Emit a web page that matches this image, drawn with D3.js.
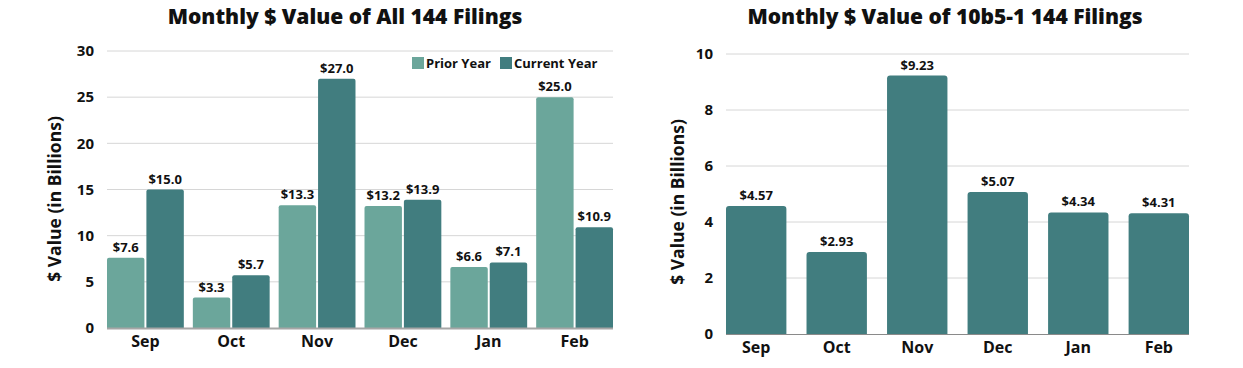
<!DOCTYPE html>
<html><head><meta charset="utf-8">
<script src="https://cdn.jsdelivr.net/npm/d3@7"></script>
<style>
body{margin:0;background:#fff;}
text{font-family:"Open Sans",sans-serif;font-weight:700;fill:#111;}
</style></head>
<body><svg id="c" width="1243" height="368"></svg>
<script>
const months = ["Sep","Oct","Nov","Dec","Jan","Feb"];
const priorYear = [7.6,3.3,13.3,13.2,6.6,25.0];
const currentYear = [15.0,5.7,27.0,13.9,7.1,10.9];
const rule10b5 = [4.57,2.93,9.23,5.07,4.34,4.31];
const leftTicks = [0,5,10,15,20,25,30];
const rightTicks = [0,2,4,6,8,10];
const seriesNames = ["Prior Year","Current Year"];
const colors = {prior:"#6ba69b", current:"#417d7f"};

const svg = d3.select("#c");

function roundTopRect(x,y,w,h,r){
  r=Math.min(r,h,w/2);
  return `M${x},${y+h}V${y+r}Q${x},${y} ${x+r},${y}H${x+w-r}Q${x+w},${y} ${x+w},${y+r}V${y+h}Z`;
}

// ---------- Left chart ----------
{
  const x0=107,x1=613,yT=51,yB=328;
  const x = d3.scaleBand().domain(months).range([x0,x1]).paddingInner(0.105).paddingOuter(0);
  const xs = d3.scaleBand().domain(seriesNames).range([0,x.bandwidth()]).paddingInner(0.05);
  const y = d3.scaleLinear().domain([0,30]).range([yB,yT]);
  const g = svg.append("g");
  g.selectAll(".grid").data(leftTicks.filter(d=>d>0)).join("line")
    .attr("x1",x0).attr("x2",x1).attr("y1",d=>y(d)).attr("y2",d=>y(d))
    .attr("stroke","#d6d6d6").attr("stroke-width",1);
  const yAxis = g.append("g").attr("transform",`translate(${x0},0)`)
    .call(d3.axisLeft(y).tickValues(leftTicks).tickSize(0).tickPadding(13));
  yAxis.select(".domain").remove();
  yAxis.selectAll("text").style("font-size","15px").attr("fill","#111");
  const data = months.map((m,i)=>({m, vals:[{k:"Prior Year",v:priorYear[i],c:colors.prior},{k:"Current Year",v:currentYear[i],c:colors.current}]}));
  const grp = g.selectAll(".grp").data(data).join("g").attr("transform",d=>`translate(${x(d.m)},0)`);
  grp.selectAll("path").data(d=>d.vals).join("path")
    .attr("d",d=>roundTopRect(xs(d.k),y(d.v),xs.bandwidth(),yB-y(d.v),2))
    .attr("fill",d=>d.c);
  grp.selectAll("text").data(d=>d.vals).join("text")
    .attr("x",d=>xs(d.k)+xs.bandwidth()/2).attr("y",d=>y(d.v)-6)
    .attr("text-anchor","middle").style("font-size","13px")
    .text(d=>"$"+d.v.toFixed(1));
  g.append("line").attr("x1",x0).attr("x2",x1).attr("y1",yB+0.5).attr("y2",yB+0.5)
    .attr("stroke","#a6a6a6").attr("stroke-width",2);
  const xAxis = g.append("g").attr("transform",`translate(0,${yB})`)
    .call(d3.axisBottom(x).tickSize(0).tickPadding(8));
  xAxis.select(".domain").remove();
  xAxis.selectAll("text").style("font-size","16px").attr("fill","#111");
  g.append("text").attr("transform",`translate(61,199) rotate(-90)`)
    .attr("text-anchor","middle").style("font-size","17.5px").text("$ Value (in Billions)");
  g.append("text").attr("x",345).attr("y",24).attr("text-anchor","middle")
    .style("font-size","21px").style("font-weight","800").text("Monthly $ Value of All 144 Filings");
  // legend
  const leg = g.append("g");
  const lx=[412,500];
  seriesNames.forEach((s,i)=>{
    leg.append("rect").attr("x",lx[i]).attr("y",57).attr("width",12).attr("height",12)
      .attr("fill",i===0?colors.prior:colors.current);
    leg.append("text").attr("x",lx[i]+14).attr("y",68).style("font-size","13px").text(s);
  });
}

// ---------- Right chart ----------
{
  const x0=726,x1=1189,yT=54,yB=334;
  const x = d3.scaleBand().domain(months).range([x0,x1]).paddingInner(0.25).paddingOuter(0);
  const y = d3.scaleLinear().domain([0,10]).range([yB,yT]);
  const g = svg.append("g");
  g.selectAll(".grid").data(rightTicks.filter(d=>d>0)).join("line")
    .attr("x1",x0).attr("x2",x1).attr("y1",d=>y(d)).attr("y2",d=>y(d))
    .attr("stroke","#d6d6d6").attr("stroke-width",1);
  const yAxis = g.append("g").attr("transform",`translate(${x0},0)`)
    .call(d3.axisLeft(y).tickValues(rightTicks).tickSize(0).tickPadding(13));
  yAxis.select(".domain").remove();
  yAxis.selectAll("text").style("font-size","15px").attr("fill","#111");
  g.selectAll(".bar").data(months.map((m,i)=>({m,v:rule10b5[i]}))).join("path")
    .attr("d",d=>roundTopRect(x(d.m),y(d.v),x.bandwidth(),yB-y(d.v),3))
    .attr("fill",colors.current);
  g.selectAll(".lbl").data(months.map((m,i)=>({m,v:rule10b5[i]}))).join("text")
    .attr("x",d=>x(d.m)+x.bandwidth()/2).attr("y",d=>y(d.v)-6)
    .attr("text-anchor","middle").style("font-size","13px")
    .text(d=>"$"+d.v.toFixed(2));
  g.append("line").attr("x1",x0).attr("x2",x1).attr("y1",yB+0.5).attr("y2",yB+0.5)
    .attr("stroke","#8a8a8a").attr("stroke-width",1);
  const xAxis = g.append("g").attr("transform",`translate(0,${yB})`)
    .call(d3.axisBottom(x).tickSize(0).tickPadding(8));
  xAxis.select(".domain").remove();
  xAxis.selectAll("text").style("font-size","16px").attr("fill","#111");
  g.append("text").attr("transform",`translate(684,202) rotate(-90)`)
    .attr("text-anchor","middle").style("font-size","17.5px").text("$ Value (in Billions)");
  g.append("text").attr("x",945).attr("y",24).attr("text-anchor","middle")
    .style("font-size","21px").style("font-weight","800").text("Monthly $ Value of 10b5-1 144 Filings");
}
</script></body></html>
